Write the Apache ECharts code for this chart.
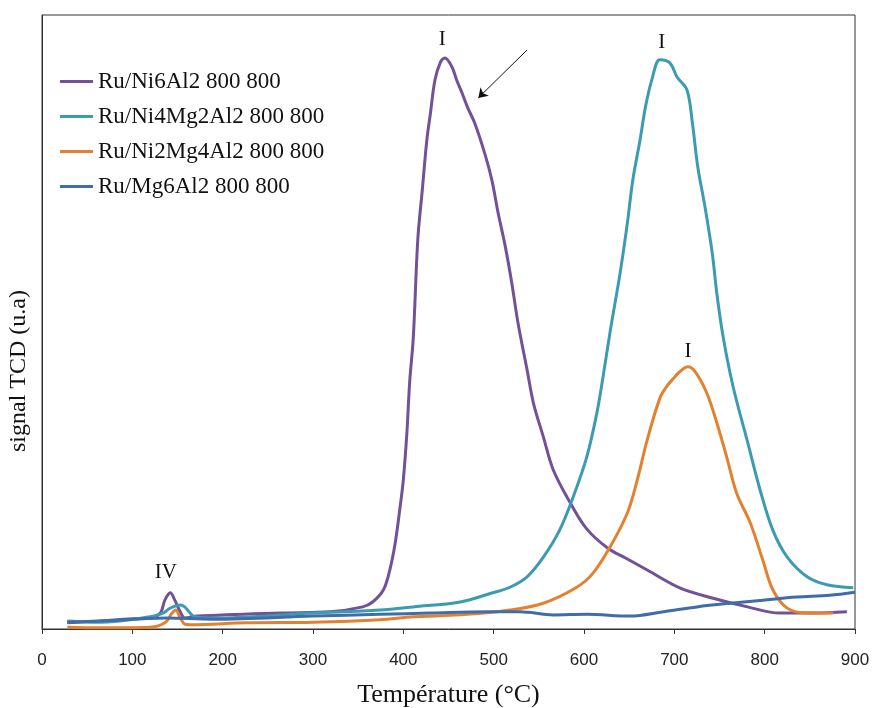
<!DOCTYPE html>
<html>
<head>
<meta charset="utf-8">
<script src="https://cdn.jsdelivr.net/npm/echarts@6/dist/echarts.min.js"></script>
<style>
  html, body { margin: 0; padding: 0; background: #fff; }
  #chart { width: 872px; height: 708px; }
</style>
</head>
<body>
<div id="chart"></div>
<script>
// TPR profiles, signal (arbitrary units, 0-100)
const seriesNames = ['Ru/Ni6Al2 800 800', 'Ru/Ni4Mg2Al2 800 800', 'Ru/Ni2Mg4Al2 800 800', 'Ru/Mg6Al2 800 800'];
const xTicks = [0, 100, 200, 300, 400, 500, 600, 700, 800, 900];

const ni6Al2 = [
  [28, 1.0], [64, 1.3], [90, 1.6], [120, 1.8], [131, 2.6], [136, 4.7], [142, 5.9],
  [147, 4.7], [153, 2.8], [158, 1.8], [172, 2.1], [264, 2.6], [319, 2.8], [355, 3.6], [366, 4.4],
  [378, 6.4], [385, 9.6], [391, 14.0], [396, 19.4], [400, 24.3], [404, 32.1], [407, 40.2],
  [411, 47.4], [416, 63.4], [421, 71.5], [426, 79.6], [430, 84.0], [435, 89.4], [441, 92.3],
  [446, 93.0], [454, 91.5], [459, 89.4], [465, 87.3], [471, 85.0], [479, 82.4], [490, 77.5],
  [498, 73.1], [505, 67.7], [513, 62.2], [520, 56.4], [527, 49.8], [537, 42.2], [544, 36.8],
  [555, 31.3], [566, 25.9], [585, 20.5], [603, 16.3], [626, 13.2], [648, 11.4], [670, 9.6],
  [706, 6.7], [743, 5.0], [781, 3.6], [817, 2.6], [854, 2.6], [891, 2.8]
];
const ni4Mg2Al2 = [
  [28, 1.3], [64, 1.1], [120, 2.0], [134, 2.6], [142, 3.4], [153, 3.9], [158, 3.6], [164, 2.6],
  [169, 2.0], [189, 1.8], [300, 2.6], [374, 3.1], [411, 3.6], [463, 4.4], [499, 5.9], [518, 6.8],
  [537, 8.5], [555, 11.7], [573, 16.1], [588, 21.5], [603, 28.0], [614, 35.0], [621, 41.0],
  [629, 48.5], [640, 58.0], [648, 66.1], [654, 73.1], [662, 79.6], [668, 85.0], [675, 89.4],
  [684, 92.7], [695, 92.2], [703, 89.9], [714, 87.8], [720, 82.4], [726, 75.2], [734, 68.7],
  [742, 61.2], [747, 54.7], [754, 47.6], [765, 39.5], [781, 30.5], [795, 22.6], [809, 16.1],
  [825, 11.7], [847, 8.5], [869, 7.2], [898, 6.7]
];
const ni2Mg4Al2 = [
  [28, 0.3], [64, 0.2], [120, 0.3], [136, 1.0], [144, 2.6], [148, 3.1], [153, 1.8], [158, 0.8],
  [164, 0.7], [227, 1.0], [300, 1.1], [374, 1.5], [411, 2.0], [463, 2.3], [518, 3.1], [555, 4.2],
  [592, 6.8], [610, 9.1], [629, 13.4], [648, 18.9], [659, 24.3], [670, 30.8], [684, 37.6],
  [692, 39.6], [699, 40.8], [706, 41.9], [715, 42.7], [723, 41.9], [736, 38.4], [747, 33.6],
  [758, 28.0], [769, 22.1], [784, 17.3], [798, 11.2], [809, 6.4], [825, 3.4], [847, 2.6], [876, 2.6]
];
const mg6Al2 = [
  [28, 1.1], [64, 1.3], [138, 1.8], [189, 1.6], [300, 2.1], [374, 2.4], [430, 2.6], [493, 2.8],
  [529, 2.8], [566, 2.3], [603, 2.4], [651, 2.1], [688, 2.8], [725, 3.6], [762, 4.2], [798, 4.7],
  [836, 5.2], [872, 5.5], [900, 6.0]
];
// peak labels: [x, y, text]
const peakLabels = [[443, 96, 'I'], [686, 95.6, 'I'], [715, 45.2, 'I'], [137, 9.2, 'IV']];
const arrowFrom = [537, 94.3];
const arrowTo = [483, 86.5];

const colors = ['#715197', '#3b9bb3', '#e4812f', '#3f6da9'];
const serif = 'Liberation Serif';

const chart = echarts.init(document.getElementById('chart'));

function makeSeries(name, data, idx) {
  return {
    name: name,
    type: 'line',
    data: data,
    showSymbol: false,
    smooth: 0.35,
    lineStyle: { width: 3, color: colors[idx] },
    itemStyle: { color: colors[idx] },
    z: 2 + idx
  };
}

const series = [
  makeSeries(seriesNames[0], ni6Al2, 0),
  makeSeries(seriesNames[1], ni4Mg2Al2, 1),
  makeSeries(seriesNames[2], ni2Mg4Al2, 2),
  makeSeries(seriesNames[3], mg6Al2, 3)
];

// labels and arrow live on the first series
series[0].markPoint = {
  symbol: 'circle',
  symbolSize: 1,
  itemStyle: { color: 'rgba(0,0,0,0)' },
  label: {
    show: true, position: 'inside', formatter: '{b}',
    color: '#111', fontFamily: serif, fontSize: 21
  },
  data: peakLabels.map(p => ({ name: p[2], coord: [p[0], p[1]] }))
};
series[0].markLine = {
  silent: true,
  symbol: ['none', 'arrow'],
  symbolSize: 9,
  label: { show: false },
  lineStyle: { color: '#111', width: 1, type: 'solid' },
  data: [[{ coord: arrowFrom }, { coord: arrowTo }]]
};

chart.setOption({
  animation: false,
  backgroundColor: '#fff',
  grid: {
    left: 42, right: 17, top: 15, bottom: 79,
    outerBoundsMode: 'none', containLabel: false,
    show: true, borderColor: '#333', borderWidth: 1
  },
  legend: {
    orient: 'vertical',
    left: 55,
    top: 65,
    itemWidth: 33,
    itemHeight: 3,
    itemGap: 12,
    icon: 'rect',
    data: seriesNames,
    textStyle: { fontFamily: serif, fontSize: 23, color: '#111' }
  },
  xAxis: {
    type: 'value',
    min: 0,
    max: 900,
    interval: 100,
    name: 'Température (°C)',
    nameLocation: 'middle',
    nameGap: 53,
    nameTextStyle: { fontFamily: serif, fontSize: 26, color: '#111' },
    axisLine: { lineStyle: { color: '#333' } },
    axisTick: { show: true, length: 5, lineStyle: { color: '#333' } },
    axisLabel: {
      fontFamily: 'Liberation Sans', fontSize: 17, color: '#222', margin: 23,
      formatter: v => xTicks.includes(v) ? String(v) : ''
    },
    splitLine: { show: false }
  },
  yAxis: {
    type: 'value',
    min: 0,
    max: 100,
    axisLine: { show: true, lineStyle: { color: '#333' } },
    axisTick: { show: false },
    axisLabel: { show: false },
    splitLine: { show: false }
  },
  graphic: [{
    type: 'text',
    x: 19,
    y: 371,
    rotation: Math.PI / 2,
    style: {
      text: 'signal TCD (u.a)',
      font: '24px "Liberation Serif"',
      fill: '#111',
      textAlign: 'center',
      textVerticalAlign: 'middle'
    }
  }],
  series: series
});
</script>
</body>
</html>
